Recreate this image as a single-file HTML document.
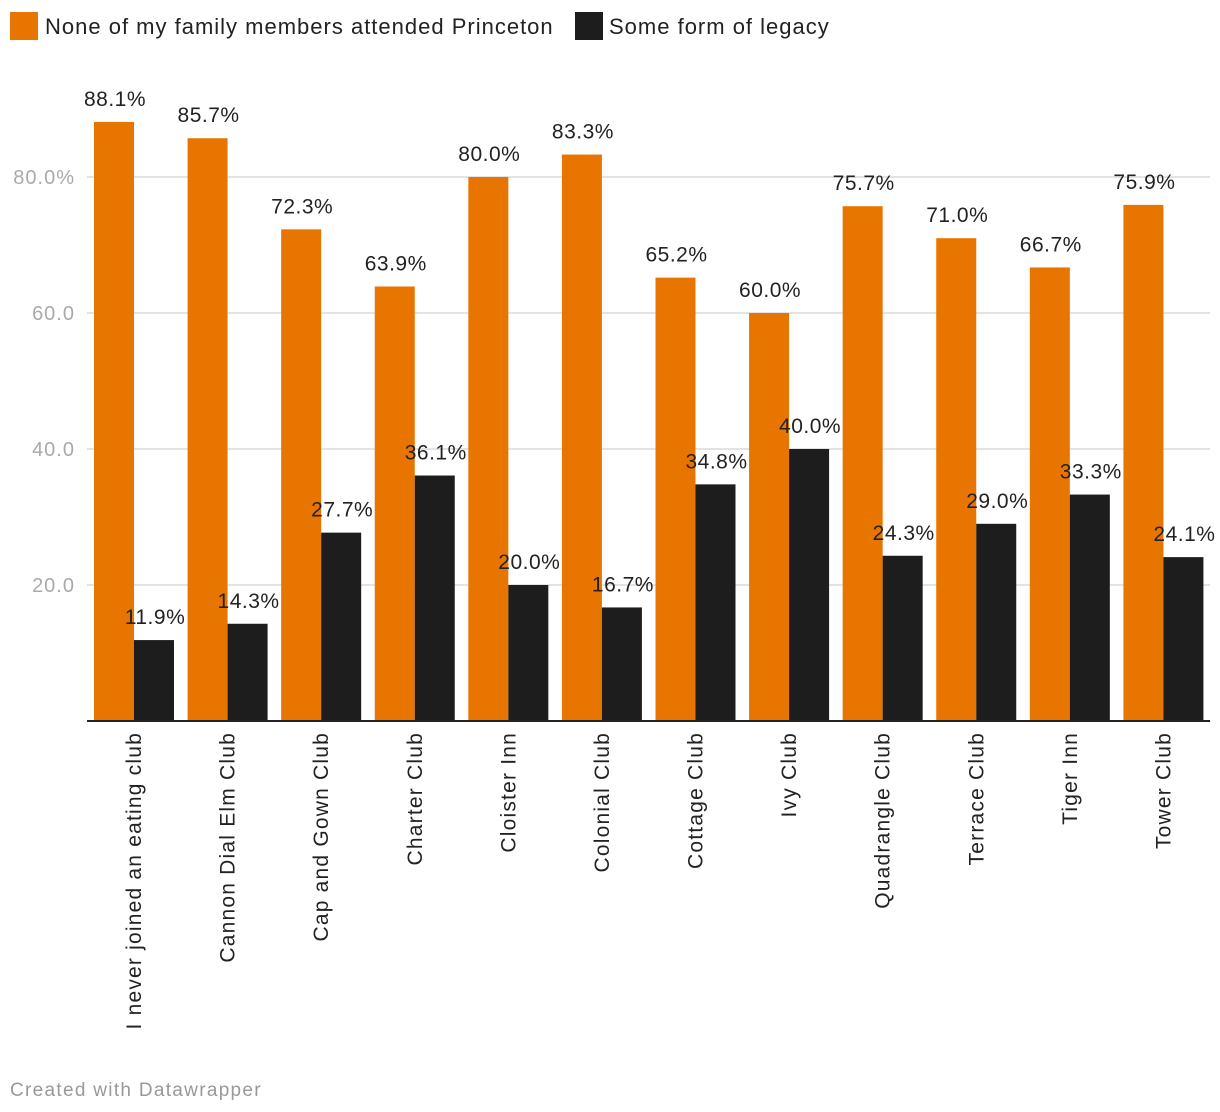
<!DOCTYPE html>
<html><head><meta charset="utf-8"><style>
body{margin:0;background:#fff;width:1220px;height:1112px;overflow:hidden;font-family:"Liberation Sans",sans-serif}
svg{display:block}
</style></head><body>
<svg id="chart" width="1220" height="1112" xmlns="http://www.w3.org/2000/svg" font-family="Liberation Sans, sans-serif">
<g>
<rect x="10" y="12" width="28" height="28" fill="#e87500"/>
<text x="45" y="34" font-size="22" letter-spacing="1" fill="#222">None of my family members attended Princeton</text>
<rect x="575" y="12" width="28" height="28" fill="#1d1d1d"/>
<text x="609" y="34" font-size="22" letter-spacing="1" fill="#222">Some form of legacy</text>
</g>
<g id="grid"></g><g id="bars"></g><g id="xl"></g>
<text x="10" y="1096" font-size="19" letter-spacing="1.3" fill="#999">Created with Datawrapper</text>
</svg>
<script>
const categories=["I never joined an eating club","Cannon Dial Elm Club","Cap and Gown Club","Charter Club","Cloister Inn","Colonial Club","Cottage Club","Ivy Club","Quadrangle Club","Terrace Club","Tiger Inn","Tower Club"];
const noFamily=[88.1,85.7,72.3,63.9,80.0,83.3,65.2,60.0,75.7,71.0,66.7,75.9];
const legacy=[11.9,14.3,27.7,36.1,20.0,16.7,34.8,40.0,24.3,29.0,33.3,24.1];
const yTicks=[20,40,60,80];
const yTickLabels=["20.0","40.0","60.0","80.0%"];
const NS="http://www.w3.org/2000/svg";
const x0=87,x1=1210,y0=721,pxPer=6.8;
const y=v=>y0-v*pxPer;
const step=(x1-x0)/categories.length;
const bw=40,pad=7;
function mk(t,a,p){const e=document.createElementNS(NS,t);for(const k in a)e.setAttribute(k,a[k]);p.appendChild(e);return e;}
const grid=document.getElementById('grid'),bars=document.getElementById('bars'),xl=document.getElementById('xl');
yTicks.forEach((t,i)=>{
 const l=mk('line',{x1:x0,x2:x1,y1:y(t),y2:y(t),stroke:'#e3e3e3','stroke-width':2},grid);
 
 
 const tx=mk('text',{x:75,y:y(t)+7,'text-anchor':'end','font-size':20,'letter-spacing':1,fill:'#aaa'},grid);
 tx.textContent=yTickLabels[i];
 
 
});
categories.forEach((c,i)=>{
 const gx=x0+i*step+pad;
 [[noFamily[i],'#e87500',gx,'bar-no-family'],[legacy[i],'#1d1d1d',gx+bw,'bar-legacy']].forEach(([v,col,bx,nm])=>{
  const r=mk('rect',{x:bx,y:y(v),width:bw,height:v*pxPer,fill:col},bars);
  
  
  const t=mk('text',{x:bx+bw/2+1,y:y(v)-16,'text-anchor':'middle','font-size':21,'letter-spacing':0.5,fill:'#222'},bars);
  t.textContent=v.toFixed(1)+'%';
  
  
 });
 const cx=gx+bw+7;
 const t=mk('text',{x:0,y:0,'text-anchor':'end','font-size':21,'letter-spacing':1.2,fill:'#222',transform:`translate(${cx},732) rotate(-90)`},xl);
 t.textContent=c;
 
 
});
const base=mk('line',{x1:x0,x2:x1,y1:y0,y2:y0,stroke:'#222','stroke-width':2},bars);


</script>
</body></html>
